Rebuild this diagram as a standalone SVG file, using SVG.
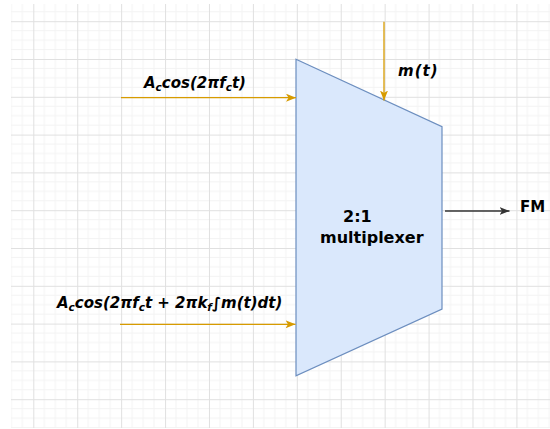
<svg xmlns="http://www.w3.org/2000/svg" width="550" height="429" viewBox="0 0 550 429">
  <style>
    .lbl { font-family: "DejaVu Sans", "Liberation Sans", sans-serif; font-weight: bold; fill: #000; }
    .it { font-style: italic; }
    .feed { stroke: #d79b00; stroke-width: 1.3; fill: none; }
    .out { stroke: #333333; stroke-width: 1.3; fill: none; }
    .grid-minor { stroke: #f3f3f3; stroke-width: 1; }
    .grid-major { stroke: #e0e0e0; stroke-width: 1; }
  </style>
  <defs>
    <!-- drawing grid: minor cells, with a darker line every fourth cell -->
    <pattern id="grid" x="-10.62" y="-16.6" width="43.92" height="37.8" patternUnits="userSpaceOnUse">
      <path class="grid-minor" d="M10.98,0V37.8M21.96,0V37.8M32.94,0V37.8M0,9.45H43.92M0,18.9H43.92M0,28.35H43.92"/>
      <path class="grid-major" d="M0.5,0V37.8M0,0.5H43.92"/>
    </pattern>
    <marker id="arrow-orange" viewBox="0 0 10 8" refX="10" refY="4" markerWidth="10" markerHeight="8" markerUnits="userSpaceOnUse" orient="auto">
      <path d="M0,0 L10,4 L0,8 L2.5,4 Z" fill="#d79b00"/>
    </marker>
    <marker id="arrow-dark" viewBox="0 0 10 8" refX="10" refY="4" markerWidth="10" markerHeight="8" markerUnits="userSpaceOnUse" orient="auto">
      <path d="M0,0 L10,4 L0,8 L2.5,4 Z" fill="#333333"/>
    </marker>
  </defs>

  <rect width="550" height="429" fill="#ffffff"/>
  <rect x="11" y="4" width="539" height="424" fill="url(#grid)"/>

  <!-- multiplexer block -->
  <g id="mux">
    <polygon points="296,59.3 442,126.7 442,309 296,375.7" fill="#dae8fc" stroke="#6c8ebf" stroke-width="1.2"/>
    <text class="lbl" x="343" y="222" font-size="16">2:1</text>
    <text class="lbl" x="320" y="243" font-size="16">multiplexer</text>
  </g>

  <!-- input and output connectors -->
  <g id="connectors">
    <line class="feed" x1="121" y1="97.7" x2="296" y2="97.7" marker-end="url(#arrow-orange)"/>
    <line class="feed" x1="120" y1="324.3" x2="295.5" y2="324.3" marker-end="url(#arrow-orange)"/>
    <line class="feed" x1="384" y1="21.7" x2="384" y2="100.5" marker-end="url(#arrow-orange)"/>
    <line class="out" x1="445" y1="211" x2="509.5" y2="211" marker-end="url(#arrow-dark)"/>
  </g>

  <!-- signal labels -->
  <g id="label-carrier">
    <text class="lbl it" x="144" y="88" font-size="15">A<tspan font-size="10.5" dy="3">c</tspan><tspan dy="-3">cos(2πf</tspan><tspan font-size="10.5" dy="3">c</tspan><tspan dy="-3">t)</tspan></text>
  </g>
  <g id="label-fm-carrier">
    <text class="lbl it" x="57" y="308" font-size="15">A<tspan font-size="10.5" dy="3">c</tspan><tspan dy="-3">cos(2πf</tspan><tspan font-size="10.5" dy="3">c</tspan><tspan dy="-3">t + 2πk</tspan><tspan font-size="10.5" dy="3">f</tspan><tspan dy="-3">∫m(t)dt)</tspan></text>
  </g>
  <g id="label-message">
    <text class="lbl it" x="398" y="76" font-size="15" letter-spacing="1">m(t)</text>
  </g>
  <g id="label-output">
    <text class="lbl" x="520" y="212" font-size="15">FM</text>
  </g>
</svg>
